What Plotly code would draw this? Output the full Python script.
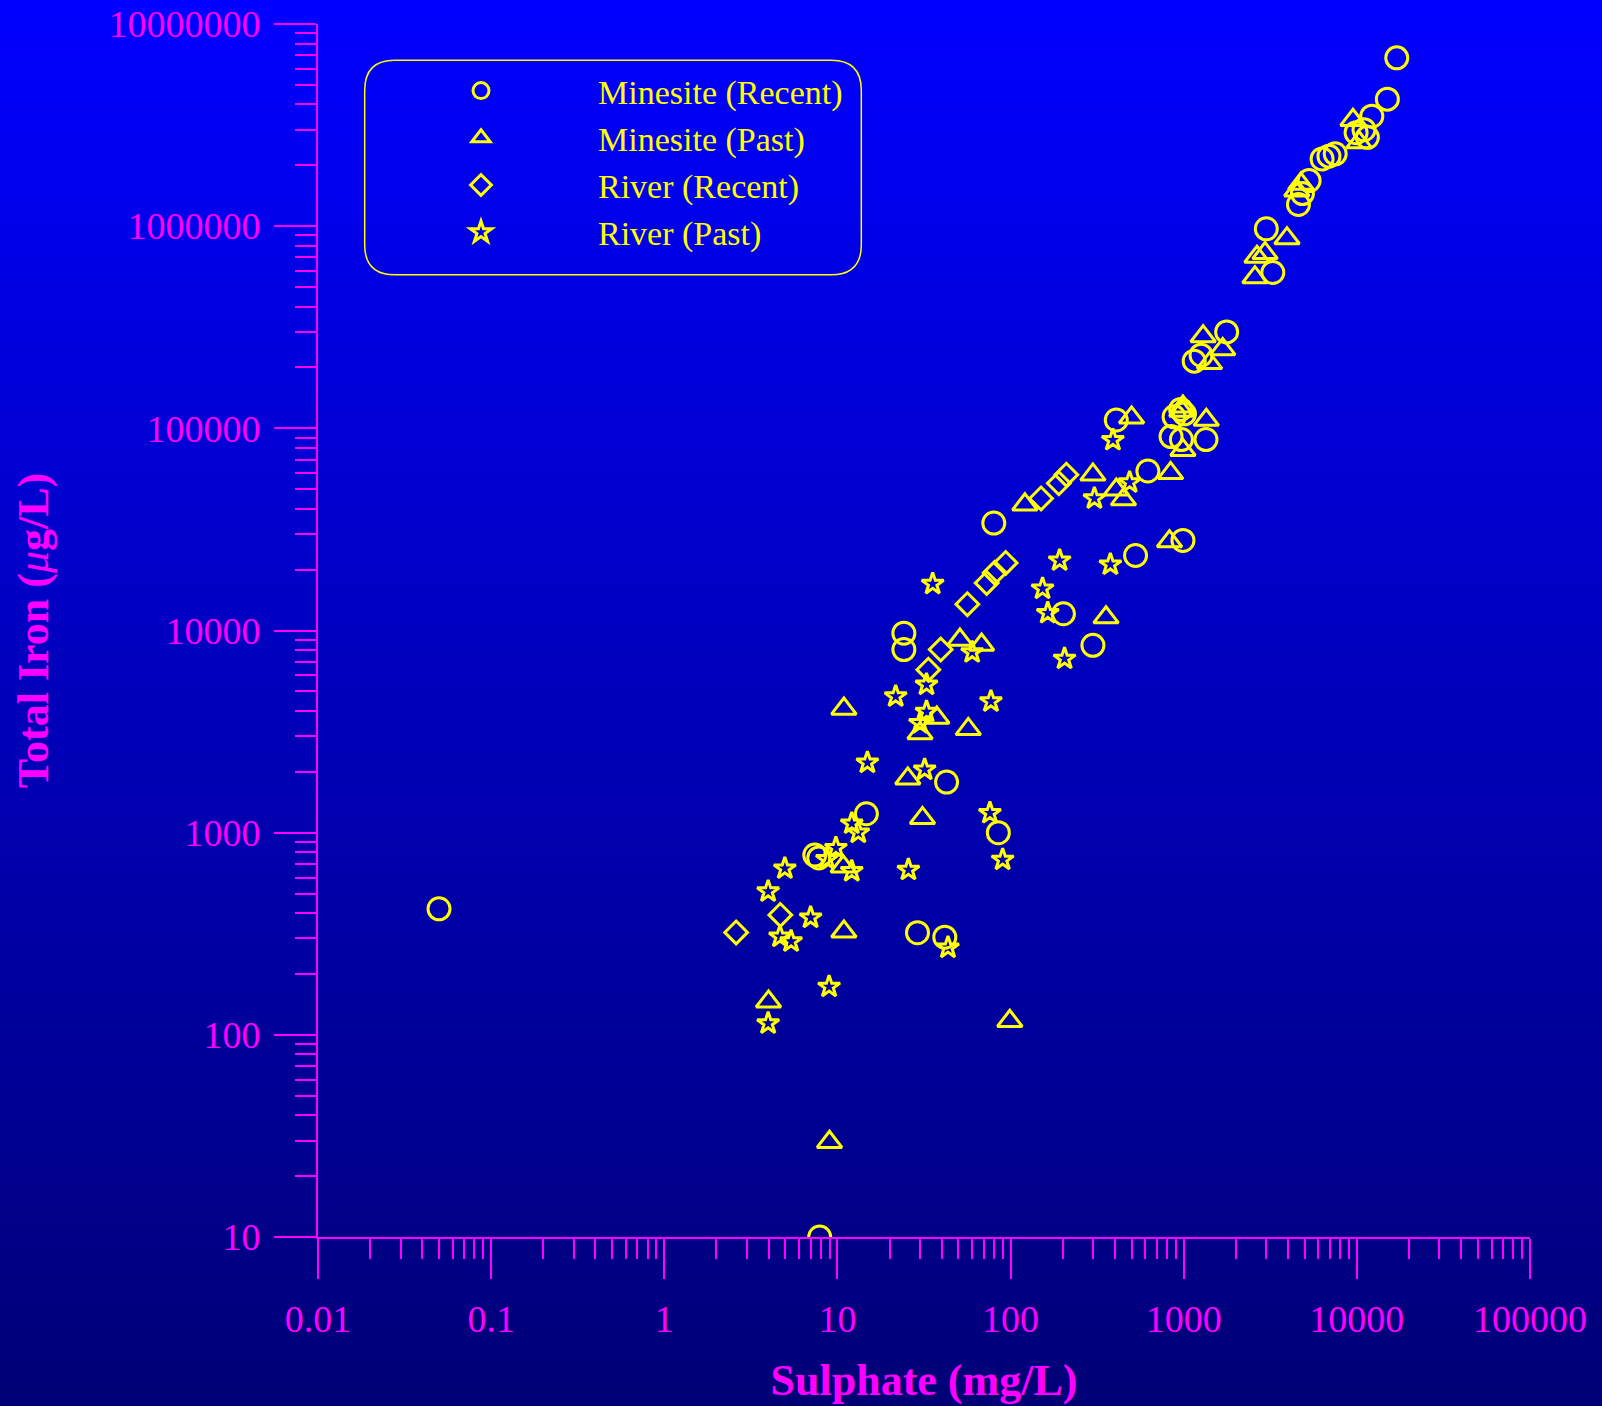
import plotly.graph_objects as go

# ---------------- data ----------------
mr_sulphate = [0.05, 7.9, 7.4, 7.8, 14.7, 24.2, 24.2, 42.7, 85, 29, 41.7, 80, 202, 299, 527, 990,
               621, 408, 880, 960, 1010, 845, 970, 1345, 1150, 1260, 1770, 3270, 3000, 4600,
               4850, 5300, 6300, 6900, 7500, 9900, 11500, 11000, 12200, 15000, 17000]
mr_iron = [420, 10, 775, 750, 1240, 9700, 8050, 1780, 1000, 320, 304, 34000, 12100, 8450, 23500, 27900,
           61500, 110000, 114000, 124000, 118000, 91000, 88000, 88000, 215000, 230000, 300000, 590000,
           970000, 1280000, 1450000, 1680000, 2150000, 2220000, 2280000, 2900000, 2750000, 3000000,
           3500000, 4250000, 6800000]

mp_sulphate = [4.0, 9.0, 99, 10.9, 10.8, 31, 25.5, 57, 30, 37.5, 10.9, 51, 68, 356, 828, 121, 299,
               408, 449, 500, 840, 990, 990, 975, 1350, 1295, 1680, 1410, 2580, 2650, 2950, 3950,
               4750, 4500, 9500, 10300]
mp_iron = [146, 29.5, 117, 324, 680, 1180, 1850, 3250, 3100, 3700, 4100, 9000, 8500, 11600, 27600,
           42000, 59000, 49700, 44500, 113000, 60000, 78000, 128000, 122000, 110000, 285000, 246000,
           210000, 558000, 705000, 735000, 870000, 1620000, 1500000, 3350000, 2600000]

rr_sulphate = [2.6, 4.68, 33.5, 39.5, 56.3, 72.8, 81, 93.7, 150, 190, 210]
rr_iron = [321, 392, 6400, 8050, 13500, 17200, 19300, 21600, 45000, 53500, 59000]

rp_sulphate = [3.98, 8.95, 4.66, 5.4, 7.0, 43.5, 3.98, 4.97, 8.7, 9.8, 12.1, 12.1, 13.2, 25.7, 90,
               76, 14.9, 31.9, 21.7, 32.7, 32.7, 30, 77, 60, 35.5, 164, 153, 205, 192, 377, 305,
               487, 390]
rp_iron = [114, 173, 306, 290, 380, 270, 512, 665, 740, 840, 645, 1110, 1000, 655, 735, 1250, 2220,
           2050, 4720, 5400, 3960, 3480, 4460, 7800, 17000, 12200, 16100, 7250, 22200, 21200, 45000,
           54000, 87500]

series_names = ["Minesite (Recent)", "Minesite (Past)", "River (Recent)", "River (Past)"]

x_tickvals = [0.01, 0.1, 1, 10, 100, 1000, 10000, 100000]
x_ticktext = ["0.01", "0.1", "1", "10", "100", "1000", "10000", "100000"]
y_tickvals = [10, 100, 1000, 10000, 100000, 1000000, 10000000]
y_ticktext = ["10", "100", "1000", "10000", "100000", "1000000", "10000000"]

# ---------------- style ----------------
W, H = 1602, 1406
ML, MR, MT, MB = 318, 72, 24, 169
PW, PH = W - ML - MR, H - MT - MB
MAGENTA = "#FF00FF"
YELLOW = "#FFFF00"
FONT = "Liberation Serif"


def px_x(px):
    return (px - ML) / PW


def px_y(py):
    return (H - MB - py) / PH


fig = go.Figure()

specs = [
    (series_names[0], mr_sulphate, mr_iron, "circle-open", 22),
    (series_names[1], mp_sulphate, mp_iron, "triangle-up-open", 21.5),
    (series_names[2], rr_sulphate, rr_iron, "diamond-open", 17.5),
    (series_names[3], rp_sulphate, rp_iron, "star-open", 16.5),
]
for name, xs, ys, sym, size in specs:
    fig.add_trace(go.Scatter(
        x=xs, y=ys, mode="markers", name=name,
        marker=dict(symbol=sym, size=size, color=YELLOW,
                    line=dict(color=YELLOW, width=3)),
    ))

# background gradient (whole figure)
shapes = []
N = 141
for i in range(N):
    y0 = i * H / N
    y1 = (i + 1) * H / N + 1.0
    t = (i + 0.5) / N
    b = round(255 + (118 - 255) * t)
    shapes.append(dict(type="rect", xref="paper", yref="paper",
                       x0=px_x(0), x1=px_x(W), y0=px_y(y1), y1=px_y(y0),
                       fillcolor=f"rgb(0,0,{b})", line=dict(width=0), layer="below"))

# rounded legend frame
lx0, lx1, ly0, ly1, rad = 364.7, 861.3, 60.3, 274.8, 30


def P(x, y):
    return f"{px_x(x):.5f},{px_y(y):.5f}"


path = (f"M{P(lx0 + rad, ly0)} L{P(lx1 - rad, ly0)} Q{P(lx1, ly0)} {P(lx1, ly0 + rad)} "
        f"L{P(lx1, ly1 - rad)} Q{P(lx1, ly1)} {P(lx1 - rad, ly1)} "
        f"L{P(lx0 + rad, ly1)} Q{P(lx0, ly1)} {P(lx0, ly1 - rad)} "
        f"L{P(lx0, ly0 + rad)} Q{P(lx0, ly0)} {P(lx0 + rad, ly0)} Z")
shapes.append(dict(type="path", xref="paper", yref="paper", path=path,
                   line=dict(color=YELLOW, width=1.5), fillcolor="rgba(0,0,0,0)", layer="below"))

fig.update_layout(
    width=W, height=H,
    margin=dict(l=ML, r=MR, t=MT, b=MB, pad=0, autoexpand=False),
    paper_bgcolor="rgb(0,0,118)", plot_bgcolor="rgba(0,0,0,0)",
    font=dict(family=FONT, color=MAGENTA),
    shapes=shapes,
    showlegend=True,
    legend=dict(x=px_x(364), y=px_y(62), xanchor="left", yanchor="top",
                bgcolor="rgba(0,0,0,0)", borderwidth=0, itemwidth=224,
                font=dict(size=34, family=FONT, color=YELLOW), tracegroupgap=0),
    xaxis=dict(
        type="log", range=[-2, 5], showline=True, linecolor=MAGENTA, linewidth=2,
        ticks="outside", ticklen=40, tickwidth=1.5, tickcolor=MAGENTA,
        tickmode="array", tickvals=x_tickvals, ticktext=x_ticktext,
        tickfont=dict(size=38, family=FONT, color=MAGENTA), ticklabelstandoff=7,
        minor=dict(ticks="outside", ticklen=20, tickwidth=1.5, tickcolor=MAGENTA,
                   dtick="D1", showgrid=False),
        showgrid=False, zeroline=False,
        title=dict(text="<b>Sulphate (mg/L)</b>",
                   font=dict(size=44, family=FONT, color=MAGENTA), standoff=26),
    ),
    yaxis=dict(
        type="log", range=[1, 7], showline=True, linecolor=MAGENTA, linewidth=2,
        ticks="outside", ticklen=42, tickwidth=1.5, tickcolor=MAGENTA,
        tickmode="array", tickvals=y_tickvals, ticktext=y_ticktext,
        tickfont=dict(size=38, family=FONT, color=MAGENTA), ticklabelstandoff=6,
        minor=dict(ticks="outside", ticklen=21, tickwidth=1.5, tickcolor=MAGENTA,
                   dtick="D1", showgrid=False),
        showgrid=False, zeroline=False,
        title=dict(text="<b>Total Iron (</b><i>μ</i><b>g/L)</b>",
                   font=dict(size=44, family=FONT, color=MAGENTA), standoff=46),
    ),
)

fig.write_html("out.html", config={"displayModeBar": False},
               post_script="document.body.style.margin='0';document.body.style.overflow='hidden';")
